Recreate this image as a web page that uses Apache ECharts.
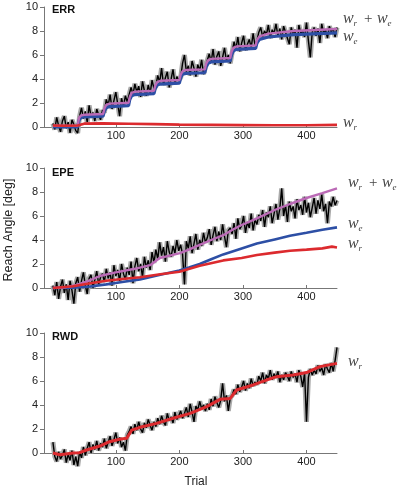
<!DOCTYPE html>
<html><head><meta charset="utf-8">
<script src="https://cdn.jsdelivr.net/npm/echarts@6/dist/echarts.min.js"></script>
<style>html,body{margin:0;padding:0;background:#fff}#c{width:400px;height:489px}</style>
</head><body><div id="c"></div>
<script>
// ---- data ----
const TRIAL_START = 1, TRIAL_STEP = 3;
const xTickValues = [100, 200, 300, 400];
const panelTitles = ['ERR', 'EPE', 'RWD'];

// trial-by-trial mean reach angle (every 3rd trial)
const errMean = [
 0.3,-0.2,0.8,0.1,-0.4,0.5,0.9,-0.1,0.4,-0.5,0.6,0.2,-0.3,
 -0.5,0.9,1.6,0.7,1.3,0.4,1.8,0.9,1.2,0.5,1.5,1.0,0.6,1.4,
 1.2,2.3,1.8,2.7,1.5,2.2,2.9,1.9,0.9,2.4,1.7,2.6,2.1,
 2.2,3.3,2.7,3.6,2.9,3.4,2.5,3.8,3.0,2.6,3.5,2.8,3.9,3.2,
 3.4,4.3,3.7,4.9,3.5,4.1,4.6,3.3,4.0,4.8,3.6,4.2,3.9,
 4.1,5.3,6.0,4.6,5.1,4.3,5.5,4.9,4.2,5.2,4.7,5.6,4.4,5.0,
 5.0,6.1,5.4,6.5,5.2,5.9,6.3,5.1,5.8,6.6,5.5,6.0,5.3,
 6.2,7.1,6.5,7.5,6.3,7.0,7.6,6.4,6.9,7.3,6.6,7.8,6.8,
 7.2,7.9,8.3,7.5,8.0,7.7,8.5,7.4,8.1,7.8,8.6,7.6,8.2,7.3,8.4,7.9,8.0,6.9,8.3,7.7,8.1,6.6,8.5,7.8,8.0,7.5,8.7,7.2,5.8,7.9,8.3,7.6,8.2,7.0,8.6,7.8,8.1,7.4,8.4,7.9,8.2,7.5,8.3
];
const epeMean = [
 0.2,-0.6,0.5,-0.9,0.1,0.7,-0.4,0.3,-1.0,0.6,-0.2,-1.3,0.4,
 0.9,-0.3,0.6,1.3,0.2,-0.5,0.8,1.1,0.0,0.7,1.4,0.3,0.9,1.2,
 0.5,1.6,0.8,1.3,0.2,1.9,1.0,1.5,0.6,2.0,1.2,0.7,1.7,
 1.1,2.2,0.4,1.8,2.5,1.4,2.0,0.9,2.6,1.7,2.3,1.5,3.0,2.1,
 3.2,2.4,3.8,2.7,3.4,2.2,3.9,3.0,2.6,3.5,2.9,4.0,3.1,
 3.6,2.8,0.3,3.9,3.3,4.3,2.9,3.7,4.5,3.2,4.0,3.5,4.6,3.8,
 4.2,4.9,3.6,4.4,5.1,3.9,4.7,4.0,5.3,4.3,3.4,4.8,5.0,
 4.5,5.4,4.1,5.8,4.9,5.2,6.0,4.6,5.5,5.0,6.2,4.8,5.7,
 5.3,6.1,5.6,6.5,5.1,6.3,5.9,6.8,5.4,6.2,7.0,5.7,6.6,8.3,6.0,6.9,5.5,7.2,6.4,6.8,5.8,7.4,6.5,6.9,6.1,7.6,6.3,7.1,5.9,6.7,7.5,6.2,7.3,6.6,7.8,6.4,7.0,5.4,7.2,6.8,7.6,6.9,7.3
];
const rwdMean = [
 0.9,-0.3,-0.7,0.1,-0.5,-0.2,0.3,-0.8,-0.1,-0.6,0.2,-1.0,-0.3,
 -1.1,0.1,-0.4,0.5,-0.2,0.4,0.9,0.0,0.7,0.3,1.0,0.2,0.8,0.5,
 1.2,0.4,0.9,1.4,0.6,1.1,1.7,0.8,1.3,0.5,0.9,0.2,1.5,
 1.8,2.2,1.6,2.4,1.9,2.6,2.0,1.7,2.5,2.1,2.8,2.3,1.9,2.6,
 2.2,2.9,2.4,3.1,2.6,2.3,3.3,2.7,3.0,2.5,3.4,2.8,3.1,
 3.5,2.9,3.3,3.8,3.0,4.1,3.4,2.6,3.9,3.6,4.3,3.7,4.0,3.5,
 4.1,3.6,4.5,3.9,4.7,4.2,3.8,4.4,5.8,4.3,4.8,3.5,4.6,
 4.8,5.3,4.9,5.7,5.1,5.5,6.0,5.2,5.8,5.4,6.2,5.6,5.9,
 5.7,6.4,6.0,6.7,5.8,6.5,6.2,6.9,6.1,6.6,6.3,6.8,5.9,6.5,6.1,6.7,6.4,6.0,6.8,6.3,6.6,5.9,6.9,6.4,5.5,6.7,2.6,6.3,7.0,6.5,6.9,6.6,7.3,6.8,7.1,6.5,7.4,7.0,6.7,7.5,6.8,7.7,8.8
];

// model components [trial, angle]
const errWe = [[1,0],[40,0],[42,0.55],[45,0.78],[50,0.85],[80,0.9],[82,1.35],[85,1.6],[90,1.7],[120,1.78],[122,2.3],[125,2.6],[130,2.7],[160,2.78],[162,3.2],[165,3.5],[170,3.58],[200,3.65],[202,4.1],[205,4.4],[210,4.47],[240,4.52],[242,5.0],[245,5.3],[250,5.42],[280,5.5],[282,6.0],[285,6.35],[290,6.47],[320,6.55],[322,7.0],[326,7.3],[340,7.5],[380,7.7],[448,7.85]];
const errWrWe = [[1,0.1],[40,0.1],[42,0.75],[45,0.95],[50,1.02],[80,1.08],[82,1.55],[85,1.85],[90,1.95],[120,2.02],[122,2.5],[125,2.85],[130,2.95],[160,3.02],[162,3.45],[165,3.75],[170,3.85],[200,3.92],[202,4.35],[205,4.65],[210,4.75],[240,4.8],[242,5.25],[245,5.55],[250,5.68],[280,5.75],[282,6.25],[285,6.6],[290,6.72],[320,6.8],[322,7.25],[326,7.55],[340,7.78],[380,8.0],[448,8.17]];
const errWr = [[1,0.12],[20,0.1],[40,0.12],[50,0.28],[80,0.3],[120,0.27],[160,0.24],[200,0.2],[250,0.18],[300,0.16],[350,0.14],[400,0.15],[448,0.18]];

const epeWrWe = [[1,0],[20,0.05],[38,0.25],[55,0.55],[75,1.0],[100,1.3],[130,1.6],[154,1.9],[169,2.5],[185,2.7],[201,2.9],[215,3.2],[232,3.6],[250,4.0],[269,4.4],[285,4.9],[298,5.25],[322,5.8],[350,6.5],[374,7.0],[400,7.5],[425,7.9],[448,8.3]];
const epeWe = [[1,0],[33,0.03],[60,0.12],[85,0.3],[110,0.5],[138,0.72],[170,1.1],[200,1.45],[215,1.7],[232,2.0],[250,2.4],[269,2.8],[298,3.3],[322,3.7],[350,4.05],[374,4.35],[400,4.6],[425,4.85],[448,5.05]];
const epeWr = [[1,0],[33,0.15],[60,0.4],[85,0.6],[110,0.75],[138,0.9],[170,1.15],[200,1.35],[232,1.85],[269,2.3],[298,2.5],[322,2.75],[350,2.95],[374,3.1],[400,3.2],[425,3.3],[440,3.45],[448,3.38]];

const rwdWr = [[1,0],[12,-0.15],[33,0],[43,0.03],[54,0.25],[75,0.58],[90,0.94],[106,1.14],[117,1.22],[125,1.9],[138,2.14],[164,2.47],[190,2.9],[217,3.3],[243,3.86],[264,4.47],[280,4.55],[290,5.25],[316,5.67],[337,6.08],[353,6.36],[379,6.5],[400,6.7],[421,7.2],[448,7.47]];

// ---- chart ----
const C_MAG = '#bb6ab6', C_BLUE = '#2d4fa5', C_RED = '#dc2a2e', C_GRAY = '#a9a9a9';
const FONT = "'Liberation Sans', Arial, sans-serif";
const SERIF = "'Liberation Serif', 'DejaVu Serif', serif";
const gridTops = [7, 168, 333];
const toXY = arr => arr.map((v, i) => [TRIAL_START + i * TRIAL_STEP, v]);

const grids = gridTops.map(t => ({left: 44, width: 293, top: t, height: 120}));
const xAxes = gridTops.map((t, i) => ({
  type: 'value', gridIndex: i, min: -13, max: 448,
  axisLine: {lineStyle: {color: '#777', width: 1}},
  axisTick: {show: true, inside: true, length: 3, customValues: xTickValues, lineStyle: {color: '#777'}},
  axisLabel: {customValues: xTickValues, fontSize: 11, color: '#222', margin: 3, fontFamily: FONT},
  splitLine: {show: false}
}));
const yAxes = gridTops.map((t, i) => ({
  type: 'value', gridIndex: i, min: 0, max: 10, interval: 2,
  axisLine: {show: true, onZero: false, lineStyle: {color: '#777', width: 1}},
  axisTick: {show: true, length: 4, lineStyle: {color: '#777'}},
  axisLabel: {fontSize: 11, color: '#222', margin: 6, fontFamily: FONT},
  splitLine: {show: false}
}));

function line(gi, data, color, width, z) {
  return {type: 'line', xAxisIndex: gi, yAxisIndex: gi, data, showSymbol: false, symbol: 'none',
    clip: false, lineStyle: {color, width}, z, animation: false, silent: true};
}
const series = [];
[errMean, epeMean, rwdMean].forEach((m, gi) => {
  series.push(line(gi, toXY(m), C_GRAY, 5, 1));
  series.push(line(gi, toXY(m), '#000', 1.4, 2));
});
series.push(line(0, errWe, C_BLUE, 3.2, 3));
series.push(line(0, errWrWe, C_MAG, 2.4, 4));
series.push(line(0, errWr, C_RED, 2.6, 5));
series.push(line(1, epeWe, C_BLUE, 2.6, 3));
series.push(line(1, epeWrWe, C_MAG, 2.4, 4));
series.push(line(1, epeWr, C_RED, 2.6, 5));
series.push(line(2, rwdWr, C_RED, 3, 5));

// math labels w_r, w_e, w_r + w_e
function wsym(x, y, sub) {
  return [
    {type: 'text', x: x, y: y, style: {text: 'w', font: "italic 16px " + SERIF, fill: '#444', textVerticalAlign: 'middle'}},
    {type: 'text', x: x + 10.5, y: y + 5, style: {text: sub, font: "italic 9px " + SERIF, fill: '#444', textVerticalAlign: 'middle'}}
  ];
}
function wsum(x, y) {
  return [].concat(wsym(x, y, 'r'),
    [{type: 'text', x: x + 21, y: y, style: {text: '+', font: "15px " + SERIF, fill: '#444', textVerticalAlign: 'middle'}}],
    wsym(x + 34, y, 'e'));
}
const graphics = [].concat(
  wsum(343, 19), wsym(343, 37, 'e'), wsym(343, 123, 'r'),
  wsum(348, 183), wsym(348, 224, 'e'), wsym(348, 244, 'r'),
  wsym(348, 362, 'r'),
  panelTitles.map((t, i) => ({type: 'text', x: 52, y: [10, 173, 337][i], style: {text: t, font: "bold 11px " + FONT, fill: '#111', textVerticalAlign: 'middle'}})),
  [{type: 'text', x: 9, y: 230, rotation: Math.PI / 2, style: {text: 'Reach Angle [deg]', font: "12.5px " + FONT, fill: '#222', textAlign: 'center', textVerticalAlign: 'middle'}},
   {type: 'text', x: 196, y: 482, style: {text: 'Trial', font: "12px " + FONT, fill: '#222', textAlign: 'center', textVerticalAlign: 'middle'}}]
);

const chart = echarts.init(document.getElementById('c'), null, {renderer: 'canvas'});
chart.setOption({
  animation: false,
  grid: grids, xAxis: xAxes, yAxis: yAxes, series,
  graphic: graphics
});
</script></body></html>
